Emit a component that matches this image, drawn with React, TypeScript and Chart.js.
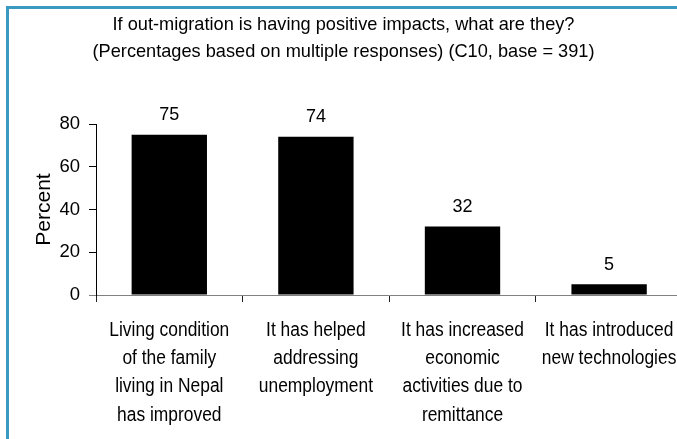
import React, { useEffect, useRef } from 'react';
import { Chart, registerables } from 'chart.js';

Chart.register(...registerables);

const categories: string[][] = [
  ['Living condition', 'of the family', 'living in Nepal', 'has improved'],
  ['It has helped', 'addressing', 'unemployment'],
  ['It has increased', 'economic', 'activities due to', 'remittance'],
  ['It has introduced', 'new technologies'],
];
const percentValues: number[] = [75, 74, 32, 5];
const yMin = 0;
const yMax = 80;
const yStep = 20;
const titleLines: string[] = [
  'If out-migration is having positive impacts, what are they?',
  '(Percentages based on multiple responses) (C10, base = 391)',
];
const yAxisTitle = 'Percent';

const FONT = '"Liberation Sans", Arial, Helvetica, sans-serif';
const BORDER_BLUE = '#3a9ac0';
const CANVAS_W = 690;
const CANVAS_H = 439;

const framePlugin = {
  id: 'frame',
  beforeDraw(chart: any) {
    const { ctx, width, height } = chart;
    ctx.save();
    ctx.fillStyle = '#ffffff';
    ctx.fillRect(0, 0, width, height);
    ctx.fillStyle = BORDER_BLUE;
    ctx.fillRect(6, 6, 3, height - 6);
    ctx.fillRect(6, 6, width - 6, 3);
    ctx.restore();
  },
};

const titlePlugin = {
  id: 'twoLineTitle',
  afterDraw(chart: any) {
    const { ctx } = chart;
    ctx.save();
    ctx.fillStyle = '#000';
    ctx.font = `18.2px ${FONT}`;
    ctx.textAlign = 'center';
    ctx.textBaseline = 'alphabetic';
    const cx = 343.5;
    ctx.fillText(titleLines[0], cx, 30);
    ctx.fillText(titleLines[1], cx, 57);
    ctx.restore();
  },
};

const xLabelPlugin = {
  id: 'xLabels',
  afterDraw(chart: any) {
    const { ctx, chartArea } = chart;
    const xScale = chart.scales.x;
    ctx.save();
    ctx.fillStyle = '#000';
    ctx.font = `20px ${FONT}`;
    ctx.textAlign = 'center';
    ctx.textBaseline = 'alphabetic';
    categories.forEach((lines, i) => {
      const x = xScale.getPixelForValue(i);
      lines.forEach((line, k) => {
        ctx.save();
        ctx.translate(x, chartArea.bottom + 41 + k * 28.2);
        ctx.scale(0.87, 1);
        ctx.fillText(line, 0, 0);
        ctx.restore();
      });
    });
    ctx.restore();
  },
};

const valueLabelPlugin = {
  id: 'valueLabels',
  afterDatasetsDraw(chart: any) {
    const { ctx } = chart;
    const meta = chart.getDatasetMeta(0);
    ctx.save();
    ctx.fillStyle = '#000';
    ctx.font = `18px ${FONT}`;
    ctx.textAlign = 'center';
    ctx.textBaseline = 'alphabetic';
    meta.data.forEach((bar: any, i: number) => {
      ctx.fillText(String(percentValues[i]), bar.x, bar.y - 14.5);
    });
    ctx.restore();
  },
};

export default function App() {
  const canvasRef = useRef<HTMLCanvasElement | null>(null);

  useEffect(() => {
    if (!canvasRef.current) return;
    const chart = new Chart(canvasRef.current, {
      type: 'bar',
      data: {
        labels: categories.map((c) => c.join(' ')),
        datasets: [
          {
            data: percentValues,
            backgroundColor: '#000000',
            borderWidth: 0,
            categoryPercentage: 1,
            barPercentage: 0.514,
          },
        ],
      },
      options: {
        animation: false,
        responsive: false,
        devicePixelRatio: 1,
        layout: { padding: { top: 124, right: 7.6, left: 0, bottom: 0 } },
        plugins: {
          legend: { display: false },
          title: { display: false },
          tooltip: { enabled: false },
        },
        scales: {
          x: {
            afterFit(scale: any) {
              scale.height = 144;
            },
            grid: {
              display: true,
              drawOnChartArea: false,
              offset: true,
              tickLength: 7,
              color: '#222',
            },
            border: { display: true, color: '#808080' },
            ticks: { display: false, autoSkip: false },
          },
          y: {
            min: yMin,
            max: yMax,
            afterFit(scale: any) {
              scale.width = 96;
            },
            grid: {
              display: true,
              drawOnChartArea: false,
              tickLength: 7,
              color: (ctx: any) => (ctx.tick && ctx.tick.value === 0 ? '#808080' : '#000'),
            },
            border: { display: true, color: '#000' },
            ticks: {
              stepSize: yStep,
              color: '#000',
              padding: 9,
              font: { family: FONT, size: 18.5 },
            },
            title: {
              display: true,
              text: yAxisTitle,
              color: '#000',
              font: { family: FONT, size: 21 },
              padding: { top: 31.4, bottom: 0 },
            },
          },
        },
      },
      plugins: [framePlugin, titlePlugin, xLabelPlugin, valueLabelPlugin],
    });
    return () => chart.destroy();
  }, []);

  return (
    <div
      style={{
        position: 'fixed',
        left: 0,
        top: 0,
        width: 677,
        height: 439,
        overflow: 'hidden',
        background: '#fff',
      }}
    >
      <canvas
        ref={canvasRef}
        width={CANVAS_W}
        height={CANVAS_H}
        style={{ display: 'block', width: CANVAS_W, height: CANVAS_H }}
      />
    </div>
  );
}
